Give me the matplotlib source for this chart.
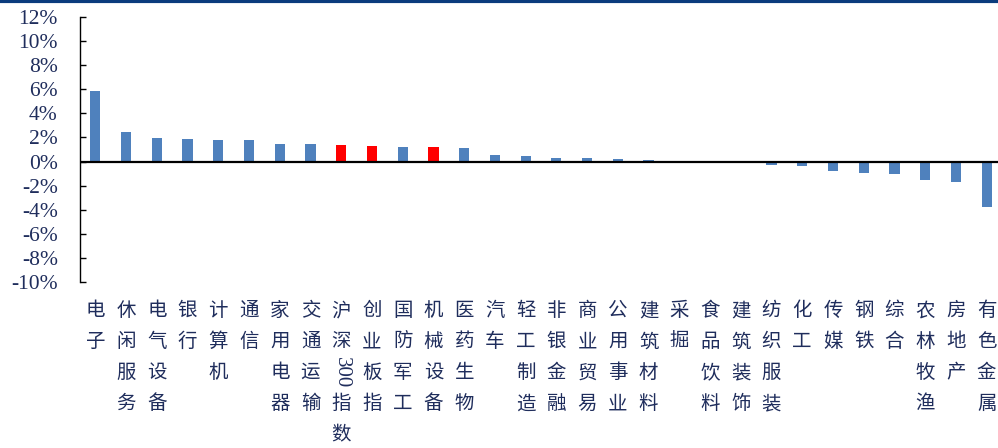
import numpy as np
import matplotlib
matplotlib.use('Agg')
import matplotlib.pyplot as plt
from matplotlib.lines import Line2D
from matplotlib.transforms import blended_transform_factory

# data (% change)
names = ['电子', '休闲服务', '电气设备', '银行', '计算机', '通信', '家用电器', '交通运输',
         '沪深300指数', '创业板指', '国防军工', '机械设备', '医药生物', '汽车', '轻工制造',
         '非银金融', '商业贸易', '公用事业', '建筑材料', '采掘', '食品饮料', '建筑装饰',
         '纺织服装', '化工', '传媒', '钢铁', '综合', '农林牧渔', '房地产', '有色金属']
values = [5.83, 2.42, 1.97, 1.89, 1.83, 1.81, 1.47, 1.47,
          1.39, 1.31, 1.22, 1.17, 1.14, 0.54, 0.45,
          0.31, 0.31, 0.22, 0.14, 0.03, 0.02, -0.01,
          -0.31, -0.34, -0.75, -0.94, -1.0, -1.55, -1.69, -3.8]
highlight = ['沪深300指数', '创业板指', '机械设备']

blue = '#4F81BD'
red = '#FF0000'
navy = '#1F2D5C'

fig = plt.figure(figsize=(9.98, 4.48), dpi=100)
ax = fig.add_axes([80/998, 166.3/448, 922/998, 264.4/448])

x = np.arange(len(names))
colors = [red if n in highlight else blue for n in names]
ax.bar(x, values, width=0.33, color=colors)

ax.set_ylim(-10, 12)
ax.set_xlim(-0.5, len(names) - 0.5)
ax.set_yticks(np.arange(-10, 13, 2))
ax.set_yticklabels(['%d%%' % v for v in np.arange(-10, 13, 2)],
                   fontfamily='Liberation Serif', fontsize=15.5, color=navy)
ax.tick_params(axis='y', direction='in', length=4.5, width=1, pad=16)
ax.set_xticks([])
for s in ['top', 'right', 'bottom']:
    ax.spines[s].set_visible(False)
ax.spines['left'].set_linewidth(1)
ax.axhline(0, color='black', linewidth=1.6)

# vertical stacked category labels
trans = blended_transform_factory(ax.transData, ax.transAxes)
step = 31 * 0.72
first = 29 * 0.72
for i, name in enumerate(names):
    parts = []
    j = 0
    while j < len(name):
        if name[j].isdigit():
            k = j
            while k < len(name) and name[k].isdigit():
                k += 1
            parts.append(name[j:k])
            j = k
        else:
            parts.append(name[j])
            j += 1
    for k, ch in enumerate(parts):
        rot = 270 if ch.isdigit() else 0
        fam = 'Liberation Serif' if ch.isdigit() else 'Noto Sans CJK SC'
        ax.annotate(ch, xy=(i, 0), xycoords=trans,
                    xytext=(0, -(first + step * k)), textcoords='offset points',
                    ha='center', va='center', rotation=rot,
                    fontsize=14 if rot == 0 else 15, fontfamily=fam, color=navy,
                    annotation_clip=False)

# top rule
fig.add_artist(Line2D([0, 1], [1 - 1.5/448, 1 - 1.5/448], transform=fig.transFigure,
                      color='#0B3C7D', linewidth=3))

plt.savefig('out.png', dpi=100)
